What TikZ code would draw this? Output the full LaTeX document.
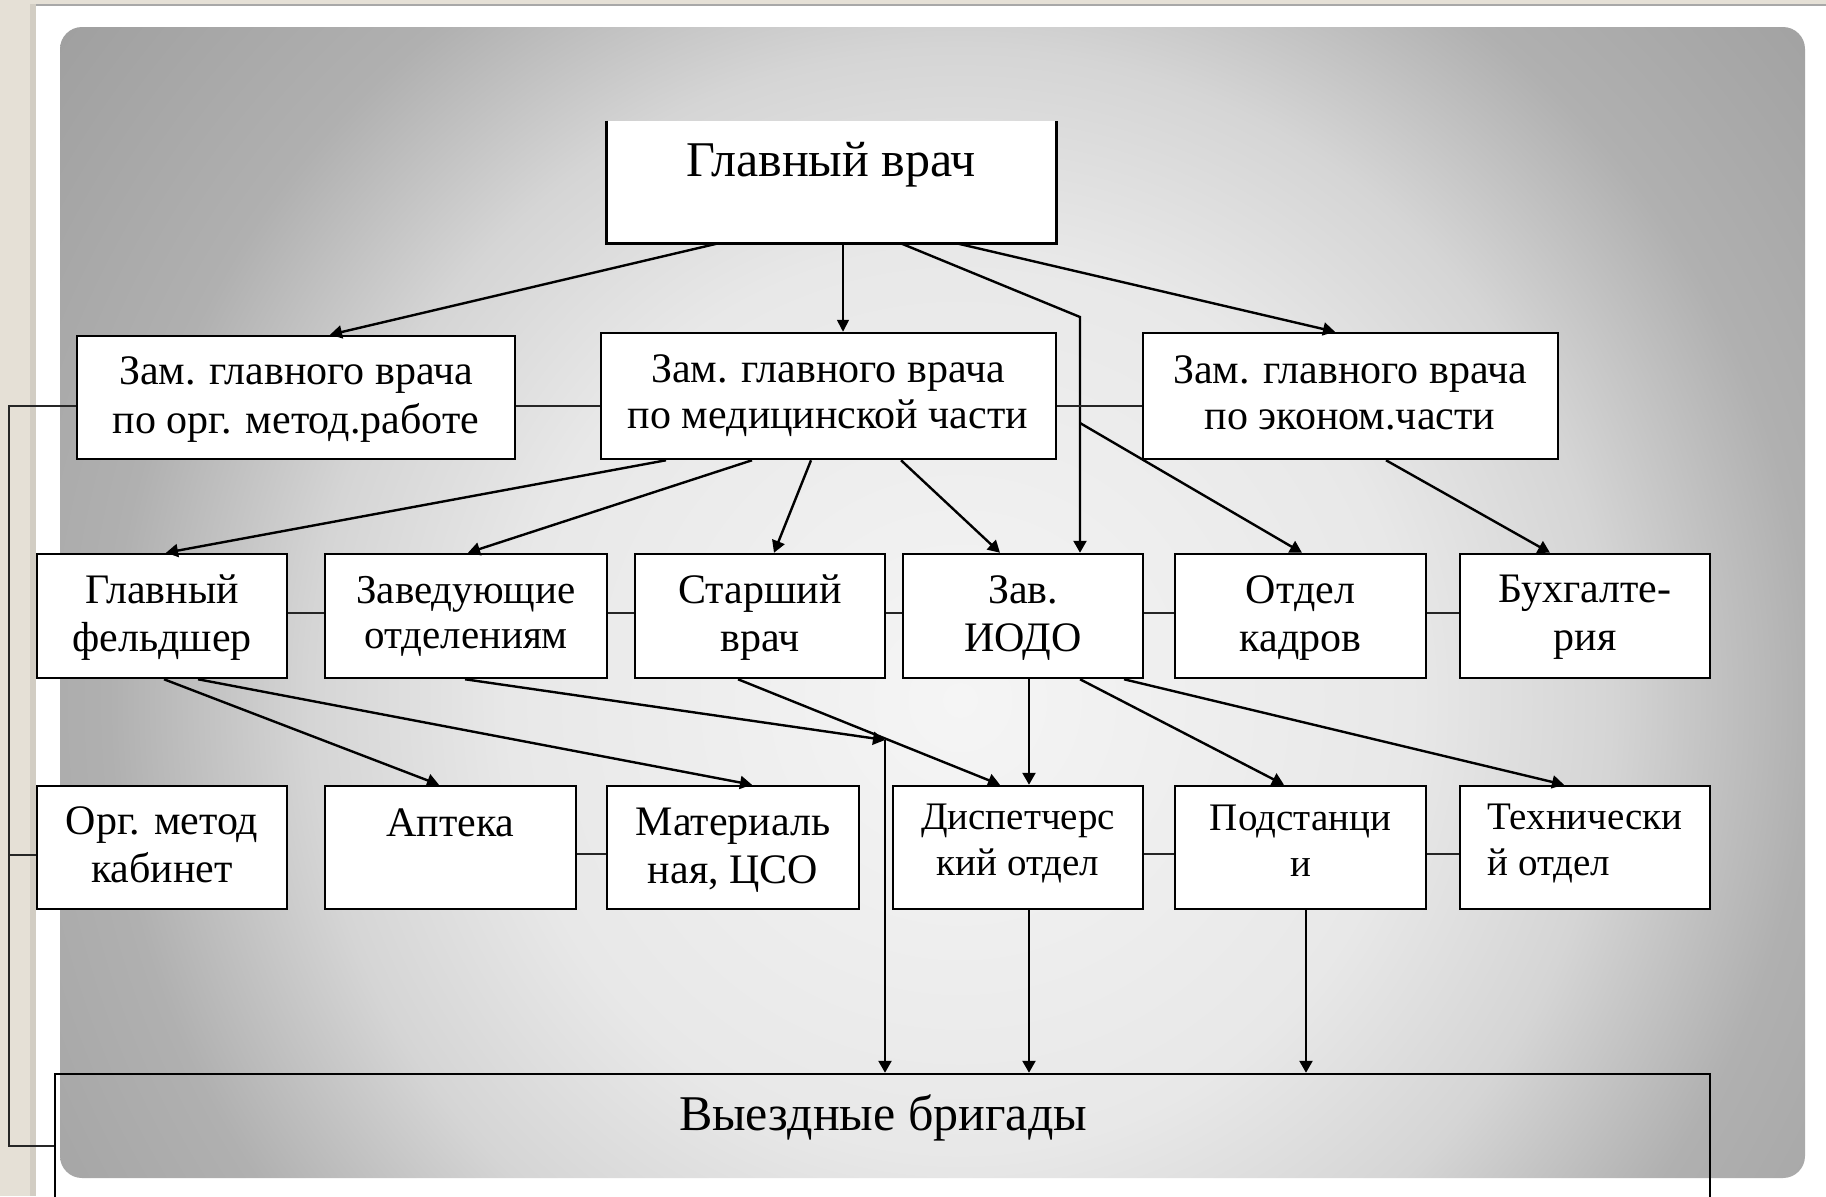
\documentclass[tikz,border=0pt]{standalone}
\usepackage{fontspec}
\setmainfont{Liberation Serif}
\usetikzlibrary{arrows.meta}
\definecolor{beige}{HTML}{E5E0D6}
\definecolor{beigedark}{HTML}{D2CDC3}
\definecolor{cardline}{HTML}{A8A8A8}
\definecolor{gA}{HTML}{F5F5F5}
\definecolor{gB}{HTML}{E8E8E8}
\definecolor{gC}{HTML}{D5D5D5}
\definecolor{gD}{HTML}{B0B0B0}
\definecolor{gE}{HTML}{9E9E9E}
\pgfdeclareradialshading{bgshade}{\pgfpoint{0bp}{0bp}}{color(0bp)=(gA); color(9.8bp)=(gB); color(14.15bp)=(gC); color(18.5bp)=(gD); color(25bp)=(gE); color(50bp)=(gE)}
\tikzset{
  box/.style={rectangle, draw=black, line width=1.25pt, fill=white, inner sep=0pt},
  txt/.style={font=\fontsize{21}{24}\selectfont, align=center, inner sep=0pt},
  smtxt/.style={font=\fontsize{19.5}{23}\selectfont, align=center, inner sep=0pt},
  bigtxt/.style={font=\fontsize{25}{29}\selectfont, align=center, inner sep=0pt},
  link/.style={line width=0.8pt, draw=black!85},
  arr/.style={line width=1.2pt, -{Triangle[length=6pt,width=6.5pt]}},
  thinarr/.style={line width=0.8pt, -{Triangle[length=6pt,width=6pt]}}
}
\begin{document}
\begin{tikzpicture}[x=0.5pt,y=-0.5pt]
\useasboundingbox (0,0) rectangle (1826,1196);
% background
\fill[beige] (0,0) rectangle (1826,1196);
\fill[beigedark] (30,4) rectangle (36,1196);
\fill[white] (36,6) rectangle (1826,1196);
\draw[cardline, line width=1pt] (36,5) -- (1826,5);
\begin{scope}
  \clip[rounded corners=11pt] (60,27) rectangle (1805,1178);
  \shade[shading=bgshade] (960,700) circle (575pt);
\end{scope}

% top box (open top)
\node[rectangle, fill=white, inner sep=0pt, minimum width=224.5pt, minimum height=61pt] (gv) at (831.5,182) {};
\draw[line width=1.25pt] (gv.north west) -- (gv.south west) -- (gv.south east) -- (gv.north east);
\node[bigtxt] (gvt) at (831,165) {Главный врач};

% deputies
\node[box, minimum width=219pt, minimum height=61.5pt] (zo) at (296,397.5) {};
\node[box, minimum width=227.5pt, minimum height=63pt] (zm) at (828.5,396) {};
\node[box, minimum width=207.5pt, minimum height=63pt] (ze) at (1350.5,396) {};
\node[txt, font=\fontsize{21}{24.5}\selectfont] (zot) at (296,400) {Зам. главного врача\\по орг. метод.работе};
\node[txt, font=\fontsize{21}{23}\selectfont] (zmt) at (828,396) {Зам. главного врача\\по медицинской части};
\node[txt, font=\fontsize{21}{23}\selectfont] (zet) at (1350,393) {Зам. главного врача\\по эконом.части};

% row 3
\node[box, minimum width=125pt, minimum height=62pt] (gf) at (162,616) {};
\node[box, minimum width=141pt, minimum height=62pt] (zav) at (466,616) {};
\node[box, minimum width=125pt, minimum height=62pt] (st) at (760,616) {};
\node[box, minimum width=120pt, minimum height=62pt] (iodo) at (1023,616) {};
\node[box, minimum width=125.5pt, minimum height=62pt] (ok) at (1300.5,616) {};
\node[box, minimum width=125pt, minimum height=62pt] (bukh) at (1585,616) {};
\node[txt] (gft) at (162,618) {Главный\\фельдшер};
\node[txt, font=\fontsize{20.5}{22.5}\selectfont] (zavt) at (466,616) {Заведующие\\отделениям};
\node[txt] (stt) at (760,618) {Старший\\врач};
\node[txt] (iodot) at (1023,618) {Зав.\\ИОДО};
\node[txt] (okt) at (1300.5,618) {Отдел\\кадров};
\node[txt] (bukht) at (1585,617) {Бухгалте-\\рия};

% row 4
\node[box, minimum width=125pt, minimum height=61.5pt] (org) at (162,847.5) {};
\node[box, minimum width=125.5pt, minimum height=61.5pt] (apt) at (450.5,847.5) {};
\node[box, minimum width=126pt, minimum height=61.5pt] (mat) at (733,847.5) {};
\node[box, minimum width=125pt, minimum height=61.5pt] (disp) at (1018,847.5) {};
\node[box, minimum width=125.5pt, minimum height=61.5pt] (pod) at (1300.5,847.5) {};
\node[box, minimum width=125pt, minimum height=61.5pt] (tech) at (1585,847.5) {};
\node[txt] (orgt) at (162,845) {Орг. метод\\кабинет};
\node[txt] (aptt) at (450.5,823) {Аптека};
\node[txt] (matt) at (733,850) {Материаль\\ная, ЦСО};
\node[smtxt] (dispt) at (1018,843) {Диспетчерс\\кий отдел};
\node[smtxt] (podt) at (1300.5,841) {Подстанци\\и};
\node[smtxt, align=left, anchor=west] (techt) at (1487,843) {Технически\\й отдел};

% bottom box
\node[rectangle, draw=black, line width=1.25pt, inner sep=0pt, minimum width=827.5pt, minimum height=93pt] (vb) at (882.5,1167) {};
\node[bigtxt] (vbt) at (883,1118) {Выездные бригады};

% helper coordinates
\coordinate (bend) at (1080,317);
\coordinate (tap) at (1080,423);
\coordinate (jn) at (885,740);

% connectors from chief
\draw[arr] (718,0 |- gv.south) -- (330,0 |- zo.north);
\draw[thinarr] (843,0 |- gv.south) -- (843,0 |- zm.north);
\draw[arr] (901,0 |- gv.south) -- (bend) -- (1080,0 |- iodo.north);
\draw[arr] (957,0 |- gv.south) -- (1335,0 |- ze.north);

% horizontal links
\draw[link] (zo.east |- 0,406) -- (zm.west |- 0,406);
\draw[link] (zm.east |- 0,406) -- (ze.west |- 0,406);
\draw[link] (zo.west |- 0,406) -- (9,406) -- (9,1146) -- (vb.west |- 0,1146);
\draw[link] (9,855) -- (org.west |- 0,855);
\foreach \a/\b in {gf/zav, zav/st, st/iodo, iodo/ok, ok/bukh}
  \draw[link] (\a.east |- 0,613) -- (\b.west |- 0,613);
\foreach \a/\b in {apt/mat, disp/pod, pod/tech}
  \draw[link] (\a.east |- 0,854) -- (\b.west |- 0,854);

% from medical deputy
\draw[arr] (666,0 |- zm.south) -- (166,0 |- gf.north);
\draw[arr] (752,0 |- zm.south) -- (468,0 |- zav.north);
\draw[arr] (811,0 |- zm.south) -- (774,0 |- st.north);
\draw[arr] (901,0 |- zm.south) -- (1000,0 |- iodo.north);
\draw[arr] (tap) -- (1302,0 |- ok.north);
\draw[arr] (1386,0 |- ze.south) -- (1550,0 |- bukh.north);

% row 3 to row 4
\draw[arr] (164,0 |- gf.south) -- (439,0 |- apt.north);
\draw[arr] (198,0 |- gf.south) -- (752,0 |- mat.north);
\draw[arr] (465,0 |- zav.south) -- (jn);
\draw[arr] (jn) -- (885,0 |- vb.north);
\draw[arr] (738,0 |- st.south) -- (1000,0 |- disp.north);
\draw[arr] (1029,0 |- iodo.south) -- (1029,0 |- disp.north);
\draw[arr] (1080,0 |- iodo.south) -- (1284,0 |- pod.north);
\draw[arr] (1124,0 |- iodo.south) -- (1564,0 |- tech.north);

% to field teams
\draw[arr] (1029,0 |- disp.south) -- (1029,0 |- vb.north);
\draw[arr] (1306,0 |- pod.south) -- (1306,0 |- vb.north);
\end{tikzpicture}
\end{document}
